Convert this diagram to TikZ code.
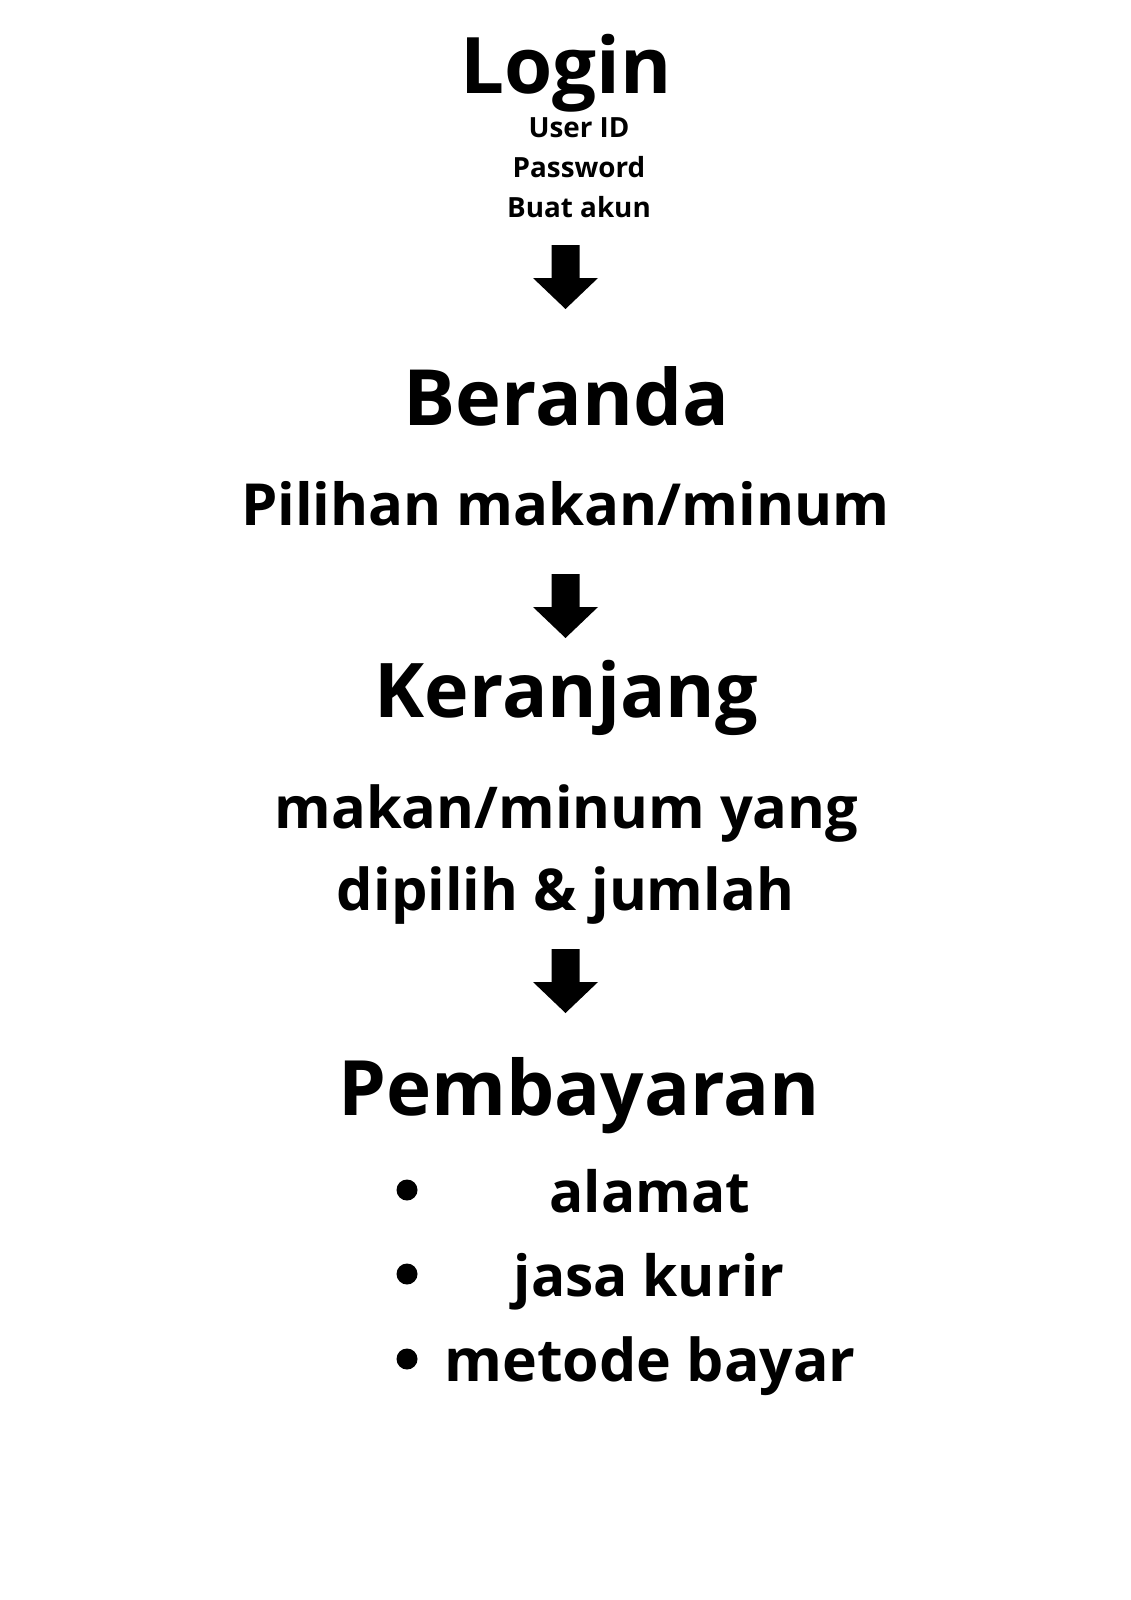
\documentclass[tikz,border=0pt]{standalone}
\usepackage{fontspec}
\setmainfont{Open Sans}
\usepackage{tikz}
\usetikzlibrary{positioning}
\tikzset{
  every node/.style={
    inner sep=0pt,
    anchor=base,
    font=\bfseries
  },
  judul/.style={font=\fontsize{#1}{#1}\selectfont\bfseries},
  judul/.default=77,
  kecil/.style={font=\fontsize{27.8}{30}\selectfont\bfseries},
  sedang/.style={font=\fontsize{#1}{#1}\selectfont\bfseries},
  sedang/.default=57.7,
  titik/.style={circle, fill=black, minimum size=21pt, anchor=center}
}
\newcommand{\panah}[1]{%
  \fill (#1) ++(-14,0) -- ++(28,0) -- ++(0,33) -- ++(18.5,0)
    -- ++(-32.5,31) -- ++(-32.5,-31) -- ++(18.5,0) -- cycle;}

\begin{document}
\begin{tikzpicture}[x=1pt,y=-1pt]
  \useasboundingbox (0,0) rectangle (1131,1600);

  \node[judul=78] (Login) at (566,94) {Login};
  \node[kecil] (UserID) at (579,138) {User ID};
  \node[kecil] (Password) at (579,177) {Password};
  \node[kecil] (Akun) at (579,217) {Buat akun};
  \coordinate (P1) at (565.5,245);
  \panah{P1}

  \node[judul=77.6] (Beranda) at (566.5,425) {Beranda};
  \node[sedang=58] (Pilihan) at (565.5,525) {Pilihan makan/minum};
  \coordinate (P2) at (565.5,574);
  \panah{P2}

  \node[judul=75.4] (Keranjang) at (566.5,717) {Keranjang};
  \node[sedang] (Item1) at (566.5,828) {makan/minum yang};
  \node[sedang] (Item2) at (565.5,910) {dipilih \& jumlah};
  \coordinate (P3) at (565.5,949);
  \panah{P3}

  \node[judul=76.4] (Bayar) at (579,1115) {Pembayaran};
  \node[titik] (B1) at (407,1190) {};
  \node[titik] (B2) at (407,1274) {};
  \node[titik] (B3) at (407,1359) {};
  \node[sedang=56.8] (Alamat) at (650,1212) {alamat};
  \node[sedang=56.8] (Kurir) at (649,1296) {jasa kurir};
  \node[sedang=59] (Metode) at (650,1381) {metode bayar};
\end{tikzpicture}
\end{document}
